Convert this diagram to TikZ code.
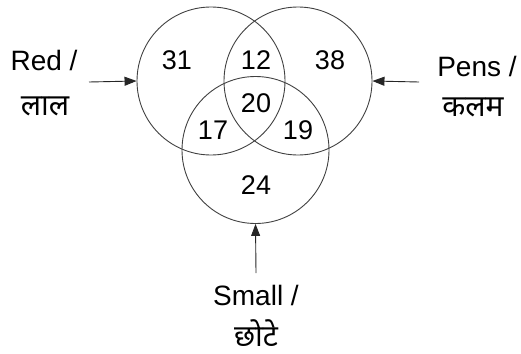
\documentclass[tikz,border=0pt]{standalone}
\usepackage{fontspec}
\setmainfont{Liberation Sans}
\newfontfamily\devfont[Script=Devanagari]{Noto Sans}
\usetikzlibrary{arrows.meta}
\tikzset{
  setcircle/.style={circle, draw=black!75, line width=0.9pt, minimum size=148pt, inner sep=0pt},
  num/.style={font=\fontsize{27}{31}\selectfont, inner sep=0pt},
  lbl/.style={font=\fontsize{28}{32}\selectfont, inner sep=0pt},
  devlbl/.style={font=\devfont\fontsize{30}{34}\selectfont, inner sep=0pt, anchor=base, text depth=0pt},
  pointer/.style={draw=black!85, line width=0.9pt, -{Triangle[length=12pt,width=9pt]}}
}
\begin{document}
\begin{tikzpicture}[x=1pt,y=-1pt]
\useasboundingbox (0,0) rectangle (521,353);
\node[setcircle] (L) at (211,81) {};
\node[setcircle] (R) at (298,81) {};
\node[setcircle, minimum size=147pt] (B) at (255.5,150) {};
\node[num] (n31) at (177,60) {31};
\node[num] (n12) at (256,60) {12};
\node[num] (n38) at (330,60) {38};
\node[num] (n20) at (256,103) {20};
\node[num] (n17) at (213,130) {17};
\node[num] (n19) at (298,130) {19};
\node[num] (n24) at (256,185) {24};
\node[lbl] (red) at (44,60) {Red /};
\node[devlbl] (redhi) at (45,115) {लाल};
\node[lbl] (pens) at (477,66) {Pens /};
\node[devlbl] (penshi) at (473,116) {कलम};
\node[lbl] (small) at (256,295) {Small /};
\node[devlbl] (smallhi) at (256,346) {छोटे};
\coordinate (redtail) at (89,82);
\coordinate (penstail) at (419,82);
\coordinate (smalltail) at (256,273);
\draw[pointer] (redtail) -- (L.west);
\draw[pointer] (penstail) -- (R.east);
\draw[pointer] (smalltail) -- (B.south);
\end{tikzpicture}
\end{document}
